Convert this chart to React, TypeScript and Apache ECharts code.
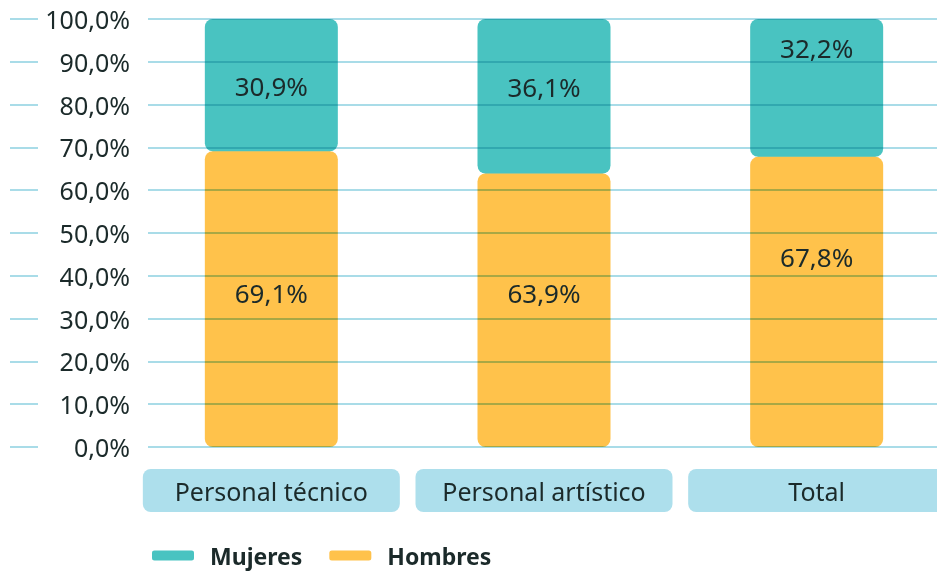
import React, { useEffect, useRef } from "react";
import * as echarts from "echarts";

const categories = ["Personal técnico", "Personal artístico", "Total"];
const hombres = [69.1, 63.9, 67.8];
const mujeres = [30.9, 36.1, 32.2];
const hombresLabelOffset = [-6, -17, -45];
const mujeresLabelOffset = [1, -9, -40];

const TEAL = "#49C3C1";
const YELLOW = "#FFC24B";
const LINE = "#A9DCE8";
const BOX = "#ADDFEC";
const TEXT = "#1B2A2A";
const FONT = "'Noto Sans', sans-serif";

const fmt = (v: number) => v.toFixed(1).replace(".", ",") + "%";

export default function App() {
  const ref = useRef<HTMLDivElement>(null);
  useEffect(() => {
    if (!ref.current) return;
    const chart = echarts.init(ref.current, undefined, { renderer: "svg" });
    const mkData = (vals: number[], offs: number[]) =>
      vals.map((v, i) => ({ value: v, label: { offset: [0, offs[i]] } }));
    chart.setOption({
      animation: false,
      textStyle: { fontFamily: FONT },
      grid: [
        { left: 10, right: 0, top: 19, bottom: 124, outerBoundsMode: "none" },
        { left: 135, right: -16, top: 19, bottom: 124, outerBoundsMode: "none", containLabel: false },
      ],
      xAxis: [
        { type: "value", gridIndex: 0, show: false, min: 0, max: 1 },
        {
          type: "category",
          gridIndex: 1,
          data: categories,
          axisLine: { show: false },
          axisTick: { show: false },
          axisLabel: {
            interval: 0,
            margin: 22,
            color: TEXT,
            fontFamily: FONT,
            fontSize: 25,
            backgroundColor: BOX,
            borderRadius: 8,
            width: 257,
            height: 43,
            lineHeight: 43,
            align: "center",
          },
        },
      ],
      yAxis: [
        {
          type: "value",
          gridIndex: 0,
          min: 0,
          max: 100,
          interval: 10,
          axisLine: { show: false },
          axisTick: { show: false },
          splitLine: { show: true, lineStyle: { color: LINE, width: 2 } },
          axisLabel: {
            inside: true,
            margin: 138,
            align: "right",
            width: 92,
            padding: [2, 18, 2, 0],
            backgroundColor: "#ffffff",
            color: TEXT,
            fontFamily: FONT,
            fontSize: 25,
            formatter: (v: number) => fmt(v),
          },
        },
        {
          type: "value",
          gridIndex: 1,
          min: 0,
          max: 100,
          interval: 10,
          show: false,
          splitLine: { show: false },
        },
      ],
      legend: {
        data: ["Mujeres", "Hombres"],
        left: 147,
        top: 539,
        icon: "roundRect",
        itemWidth: 42,
        itemHeight: 10,
        itemGap: 27,
        selectedMode: false,
        textStyle: {
          color: TEXT,
          fontFamily: FONT,
          fontSize: 23,
          fontWeight: "bold",
          padding: [0, 0, 0, 11],
        },
      },
      series: [
        {
          name: "Hombres",
          type: "bar",
          stack: "total",
          xAxisIndex: 1,
          yAxisIndex: 1,
          barWidth: 133,
          silent: true,
          data: mkData(hombres, hombresLabelOffset),
          itemStyle: { color: YELLOW, borderRadius: 8 },
          label: {
            show: true,
            position: "inside",
            color: TEXT,
            fontFamily: FONT,
            fontSize: 26,
            formatter: (p: any) => fmt(p.value),
          },
        },
        {
          name: "Mujeres",
          type: "bar",
          stack: "total",
          xAxisIndex: 1,
          yAxisIndex: 1,
          barWidth: 133,
          silent: true,
          data: mkData(mujeres, mujeresLabelOffset),
          itemStyle: { color: TEAL, borderRadius: 8 },
          label: {
            show: true,
            position: "inside",
            color: TEXT,
            fontFamily: FONT,
            fontSize: 26,
            formatter: (p: any) => fmt(p.value),
          },
        },
      ],
    });
    return () => chart.dispose();
  }, []);
  return (
    <>
      <style>{`#chartbox path[fill="${TEAL}" i], #chartbox path[fill="${YELLOW}" i] { mix-blend-mode: multiply; }`}</style>
      <div
        id="chartbox"
        ref={ref}
        style={{ position: "absolute", left: 0, top: 0, width: 937, height: 571, background: "#fff" }}
      />
    </>
  );
}
